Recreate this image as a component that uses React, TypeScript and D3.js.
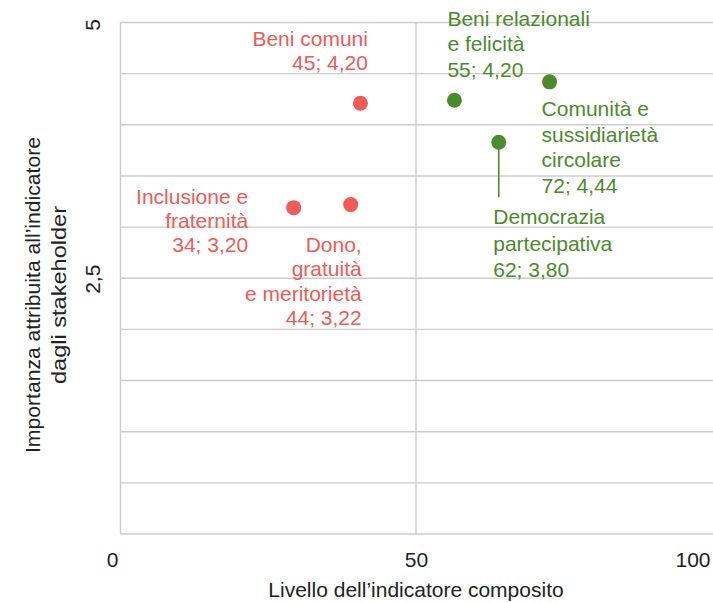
import React from "react";
import * as d3 from "d3";

// ---- data ----
const names: string[][] = [
  ["Beni comuni", "45; 4,20"],
  ["Inclusione e", "fraternità", "34; 3,20"],
  ["Dono,", "gratuità", "e meritorietà", "44; 3,22"],
  ["Beni relazionali", "e felicità", "55; 4,20"],
  ["Comunità e", "sussidiarietà", "circolare", "72; 4,44"],
  ["Democrazia", "partecipativa", "62; 3,80"],
];
const xValues = [40.6, 29.3, 38.95, 56.5, 72.6, 64.0];
const yValues = [4.21, 3.19, 3.22, 4.24, 4.42, 3.83];
const groups = ["red", "red", "red", "green", "green", "green"];
const xTicks = [0, 50, 100];
const xTickLabels = ["0", "50", "100"];
const yTicks = [0, 2.5, 5];
const yTickLabels = ["", "2,5", "5"];
const yGrid = d3.range(0, 5.01, 0.5);
const xGrid = [0, 50];
const xTitle = "Livello dell\u2019indicatore composito";
const yTitle = ["Importanza attribuita all\u2019indicatore", "dagli stakeholder"];

// ---- layout / styles ----
const W = 713;
const H = 603;
const FONT = "'Liberation Sans', Arial, Helvetica, sans-serif";
const FS = 21;
const colors: Record<string, string> = { red: "#f15a55", green: "#4b8b2c" };
const yTitleLengths = [316, 178];
const labelLayout = [
  { anchor: "end", dx: 7.5, dy: -57, lh: 24 },
  { anchor: "end", dx: -45.5, dy: -3.3, lh: 24 },
  { anchor: "end", dx: 11, dy: 47.5, lh: 24.4 },
  { anchor: "start", dx: -7, dy: -74.7, lh: 25.6 },
  { anchor: "start", dx: -8, dy: 34.3, lh: 25.6 },
  { anchor: "start", dx: -5.5, dy: 82.3, lh: 26.2 },
];

export default function App() {
  const x = d3.scaleLinear().domain([0, 100]).range([120.5, 711.5]);
  const y = d3.scaleLinear().domain([0, 5]).range([534, 22.5]);
  const grid = "#cccccc";

  return (
    <svg
      width={W}
      height={H}
      style={{ position: "absolute", left: 0, top: 0, background: "#fff" }}
      fontFamily={FONT}
    >
      <rect x={0} y={0} width={W} height={H} fill="#fff" />
      {/* horizontal grid */}
      {yGrid.map((v) => (
        <line key={"h" + v} x1={x(0)} x2={W} y1={y(v)} y2={y(v)} stroke={grid} strokeWidth={1.4} />
      ))}
      {/* vertical grid */}
      {xGrid.map((v) => (
        <line key={"v" + v} x1={x(v)} x2={x(v)} y1={y(5)} y2={y(0)} stroke={grid} strokeWidth={1.4} />
      ))}

      {/* x tick labels */}
      {xTicks.map((v, i) => {
        const anchor = i === 0 ? "end" : i === xTicks.length - 1 ? "end" : "middle";
        const off = i === 0 ? -2 : i === xTicks.length - 1 ? -1 : 0.5;
        return (
          <text key={"xt" + v} x={x(v) + off} y={567} fontSize={FS} fill="#222" textAnchor={anchor}>
            {xTickLabels[i]}
          </text>
        );
      })}
      {/* y tick labels */}
      {yTicks.map((v, i) =>
        yTickLabels[i] ? (
          <text
            key={"yt" + v}
            transform={`translate(100,${y(v) + (i === yTicks.length - 1 ? 2.5 : 1)}) rotate(-90)`}
            fontSize={FS}
            fill="#222"
            textAnchor="middle"
          >
            {yTickLabels[i]}
          </text>
        ) : null
      )}

      {/* axis titles */}
      <text x={416} y={597} fontSize={FS} fill="#222" textAnchor="middle">
        {xTitle}
      </text>
      {yTitle.map((t, i) => (
        <text
          key={"yti" + i}
          transform={`translate(${40 + i * 25.5},295) rotate(-90)`}
          fontSize={FS}
          fill="#222"
          textAnchor="middle"
          textLength={yTitleLengths[i]}
          lengthAdjust="spacingAndGlyphs"
        >
          {t}
        </text>
      ))}

      {/* connector for Democrazia partecipativa */}
      <line
        x1={x(xValues[5])}
        x2={x(xValues[5])}
        y1={y(yValues[5])}
        y2={y(yValues[5]) + 55}
        stroke={colors[groups[5]]}
        strokeWidth={1.6}
      />

      {/* points */}
      {xValues.map((xv, i) => (
        <circle key={"p" + i} cx={x(xv)} cy={y(yValues[i])} r={7.5} fill={colors[groups[i]]} />
      ))}

      {/* labels */}
      {names.map((lines, i) => {
        const L = labelLayout[i];
        const px = x(xValues[i]) + L.dx;
        const py = y(yValues[i]) + L.dy;
        return (
          <text key={"l" + i} fontSize={FS} fill={colors[groups[i]]} textAnchor={L.anchor}>
            {lines.map((ln, j) => (
              <tspan key={j} x={px} y={py + j * L.lh}>
                {ln}
              </tspan>
            ))}
          </text>
        );
      })}
    </svg>
  );
}
